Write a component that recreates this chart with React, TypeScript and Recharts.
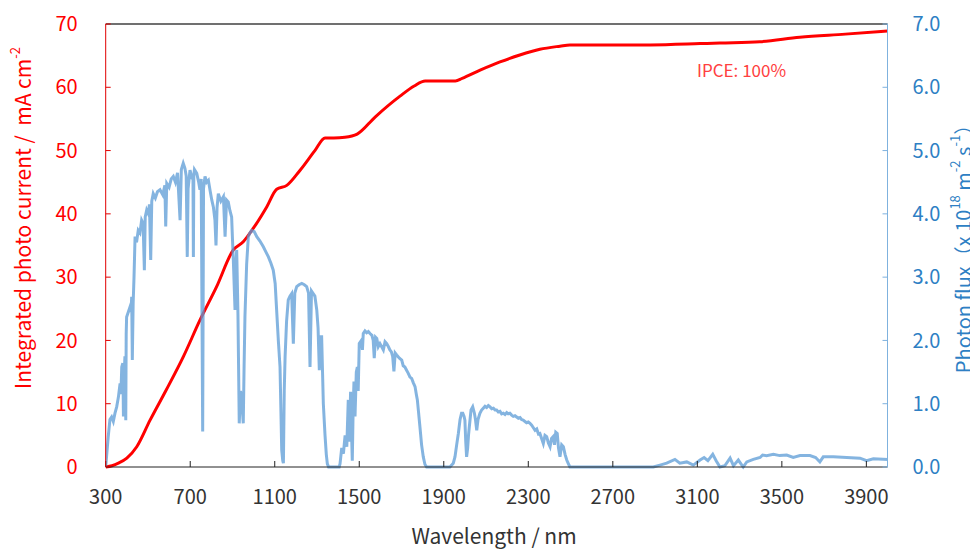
import React from "react";
import { LineChart, Line, XAxis, YAxis, ReferenceLine } from "recharts";

const FONT = "'Noto Sans CJK JP', 'Noto Sans', sans-serif";
const RED = "#FF0000";
const BLUE = "#5B9BD5";
const BLUE_TEXT = "#2E7FC4";

const xTicks = [300, 700, 1100, 1500, 1900, 2300, 2700, 3100, 3500, 3900];
const leftTicks = [0, 10, 20, 30, 40, 50, 60, 70];
const rightTicks = [0, 1, 2, 3, 4, 5, 6, 7];

// integrated photo current (mA cm-2), IPCE 100%
const currentNm = [300, 330, 360, 400, 447, 510, 587, 667, 746, 825, 904, 951, 998, 1062, 1109, 1157, 1220, 1290, 1338, 1380, 1432, 1490, 1575, 1693, 1760, 1812, 1955, 1987, 2072, 2166, 2260, 2355, 2450, 2497, 2600, 2877, 3113, 3207, 3396, 3585, 3800, 4000];
const currentVal = [0, 0.2, 0.6, 1.4, 3.2, 7.4, 12.2, 17.4, 23.2, 28.5, 34.3, 35.6, 37.7, 41.1, 43.9, 44.5, 46.9, 50.0, 52.0, 52.0, 52.1, 52.6, 55.3, 58.6, 60.2, 61.0, 61.0, 61.4, 62.7, 64.0, 65.1, 66.0, 66.5, 66.7, 66.7, 66.7, 66.9, 67.0, 67.2, 67.9, 68.4, 68.9];

// photon flux (x 10^18 m-2 s-1)
const fluxNm = [
  300, 312, 320, 328, 336, 344, 352, 360, 368, 372, 376, 381, 384, 388, 391, 395, 397, 399, 407, 415, 420, 423, 426, 430, 434, 439, 446, 454, 462, 470, 477, 483, 487, 494, 502, 507, 513, 518, 525, 535, 545, 557, 570, 580, 584, 589, 600, 610, 620, 630, 640, 652, 658, 667, 675, 681, 686, 690, 699, 710, 713, 715, 717, 720, 731, 740, 746, 752, 759, 763, 770, 778, 786, 795, 802, 810, 817, 822, 827, 833, 845, 857, 865, 872, 880, 888, 896, 900, 904, 912, 916, 920, 926, 932, 938, 944, 951, 955, 959, 967, 975, 983, 991, 1003, 1015, 1030, 1046, 1058, 1070, 1082, 1093, 1102, 1109, 1117, 1125, 1133, 1138, 1141, 1145, 1149, 1156, 1164, 1172, 1180, 1188, 1195, 1204, 1215, 1228, 1240, 1251, 1260, 1267, 1274, 1282, 1290, 1299, 1305, 1311, 1316, 1322, 1330, 1338, 1344, 1349, 1355,
  1405, 1409, 1417, 1425, 1433, 1441, 1448, 1453, 1459, 1463, 1467, 1471, 1475, 1480, 1486, 1491, 1495, 1500, 1510, 1515, 1519, 1527, 1535, 1543, 1551, 1560, 1566, 1571, 1577, 1583, 1590, 1598, 1606, 1614, 1622, 1630, 1638, 1645, 1652, 1658, 1664, 1670, 1677, 1690, 1701, 1708, 1716, 1724, 1732, 1740, 1748, 1756, 1764, 1770, 1775, 1781, 1787, 1795, 1803, 1811, 1819,
  1929, 1945, 1953, 1961, 1969, 1977, 1984, 1990, 1996, 2000, 2004, 2008, 2013, 2017, 2021, 2029, 2037, 2045, 2050, 2056, 2062, 2071, 2079, 2087, 2095, 2103, 2111, 2119, 2127, 2135, 2143, 2150, 2158, 2166, 2174, 2182, 2190, 2198, 2205, 2213, 2221, 2229, 2237, 2245, 2253, 2261, 2268, 2276, 2284, 2292, 2300, 2308, 2316, 2324, 2332, 2340, 2348, 2355, 2363, 2371, 2379, 2387, 2395, 2403, 2410, 2418, 2424, 2430, 2437, 2443, 2450, 2458, 2466, 2474, 2482, 2490, 2497,
  2892, 2923, 2955, 2994, 3017, 3050, 3081, 3113, 3132, 3150, 3173, 3189, 3207, 3230, 3255, 3271, 3294, 3317, 3334, 3365, 3397, 3409, 3428, 3460, 3490, 3523, 3554, 3586, 3633, 3660, 3680, 3696, 3743, 3807, 3870, 3901, 3933, 4004,
];
const fluxVal = [
  0, 0.48, 0.75, 0.79, 0.72, 0.85, 0.95, 1.1, 1.32, 1.15, 1.58, 1.64, 0.8, 1.5, 1.75, 0.74, 2.1, 2.37, 2.45, 2.53, 2.45, 2.69, 1.69, 2.6, 3.0, 3.64, 3.55, 3.74, 3.7, 3.9, 3.85, 3.11, 3.95, 4.06, 4.0, 4.15, 3.27, 4.2, 4.32, 4.25, 4.35, 4.38, 4.3, 4.45, 3.8, 4.48, 4.42, 4.55, 4.59, 4.5, 4.65, 3.9, 4.7, 4.8, 4.72, 4.6, 3.32, 4.4, 4.69, 4.55, 4.6, 3.32, 4.6, 4.7, 4.64, 4.5, 4.38, 4.55, 0.56, 4.4, 4.59, 4.5, 4.53, 4.35, 4.22, 4.1, 3.9, 3.5, 4.1, 4.32, 4.2, 4.27, 3.64, 4.22, 4.19, 4.05, 3.95, 3.6, 3.27, 2.48, 3.2, 3.43, 2.4, 0.69, 1.2, 1.06, 0.69, 1.6, 2.37, 3.2, 3.64, 3.7, 3.74, 3.72, 3.64, 3.57, 3.48, 3.4, 3.32, 3.22, 3.11, 2.9, 2.48, 2.0, 1.58, 0.27, 0.1, 0.06, 1.2, 1.74, 2.3, 2.64, 2.7, 2.74, 1.95, 2.75, 2.85, 2.88, 2.9, 2.88, 2.85, 2.75, 1.58, 2.78, 2.74, 2.7, 2.48, 2.2, 1.53, 2.06, 2.06, 1.0, 0.5, 0.2, 0.05, 0,
  0, 0.05, 0.3, 0.21, 0.5, 0.32, 1.06, 0.4, 1.19, 0.6, 0.1, 0.9, 1.35, 0.8, 1.5, 1.58, 1.2, 1.95, 2.0, 1.85, 2.11, 2.15, 2.12, 2.14, 2.11, 2.08, 2.0, 1.72, 2.05, 2.03, 1.9, 1.95, 1.9, 1.85, 1.98, 1.95, 1.9, 1.85, 1.82, 1.75, 1.51, 1.8, 1.77, 1.72, 1.69, 1.6, 1.58, 1.53, 1.48, 1.42, 1.4, 1.33, 1.27, 1.15, 1.06, 0.85, 0.64, 0.35, 0.16, 0.04, 0,
  0, 0.06, 0.16, 0.35, 0.53, 0.75, 0.85, 0.85, 0.8, 0.74, 0.4, 0.16, 0.3, 0.5, 0.64, 0.9, 0.95, 0.85, 0.75, 0.58, 0.75, 0.85, 0.9, 0.93, 0.96, 0.94, 0.97, 0.95, 0.92, 0.93, 0.9, 0.9, 0.87, 0.88, 0.84, 0.85, 0.83, 0.86, 0.84, 0.85, 0.82, 0.8, 0.81, 0.79, 0.77, 0.78, 0.75, 0.74, 0.72, 0.7, 0.71, 0.69, 0.66, 0.62, 0.58, 0.6, 0.52, 0.53, 0.45, 0.37, 0.5, 0.48, 0.38, 0.32, 0.45, 0.48, 0.35, 0.55, 0.53, 0.3, 0.16, 0.35, 0.32, 0.2, 0.11, 0.05, 0,
  0, 0.03, 0.06, 0.12, 0.06, 0.08, 0.03, 0.11, 0.15, 0.1, 0.2, 0.1, 0, 0.02, 0.14, 0.02, 0.11, 0, 0.08, 0.12, 0.15, 0.19, 0.18, 0.2, 0.18, 0.19, 0.15, 0.18, 0.18, 0.15, 0.08, 0.16, 0.16, 0.15, 0.14, 0.1, 0.13, 0.12,
];

const currentData = currentNm.map((x, i) => ({ x, y: currentVal[i] }));
const fluxData = fluxNm.map((x, i) => ({ x, y: fluxVal[i] }));

function LeftTitle() {
  return (
    <text transform="translate(14,210) rotate(-90)" textAnchor="middle" dominantBaseline="central" fill={RED} fontSize={21} fontFamily={FONT}>
      {"Integrated photo current /\u00A0\u00A0mA cm"}
      <tspan fontSize={13} dy={-8}>-2</tspan>
    </text>
  );
}

function RightTitle() {
  return (
    <text transform="translate(954,236) rotate(-90)" textAnchor="middle" dominantBaseline="central" fill={BLUE_TEXT} fontSize={20} fontFamily={FONT}>
      Photon flux（x 10<tspan fontSize={13} dy={-8}>18</tspan>
      <tspan dy={8}> m</tspan>
      <tspan fontSize={13} dy={-8}>-2</tspan>
      <tspan dy={8}> s</tspan>
      <tspan fontSize={13} dy={-8}>-1</tspan>
      <tspan dy={8}>）</tspan>
    </text>
  );
}

function BottomTitle() {
  return (
    <text x={486} y={536} textAnchor="middle" fill="#333" fontSize={21} fontFamily={FONT}>
      Wavelength / nm
    </text>
  );
}

export default function App() {
  return (
    <div style={{ position: "relative", width: 970, height: 542, fontFamily: FONT }}>
      <style>{`.recharts-surface { overflow: visible; }`}</style>
      <LineChart width={970} height={542} margin={{ top: 16, right: 30.5, bottom: 43, left: 37.7 }}>
        <XAxis
          dataKey="x"
          type="number"
          domain={[300, 4000]}
          ticks={xTicks}
          allowDataOverflow
          height={40}
          stroke="#222"
          tickSize={-6}
          tickMargin={29}
          tick={{ fill: "#333", fontSize: 20, fontFamily: FONT }}
          label={<BottomTitle />}
        />
        <YAxis
          yAxisId="left"
          domain={[0, 70]}
          ticks={leftTicks}
          width={60}
          stroke="#E00000"
          tickSize={-5}
          tickMargin={33}
          tick={{ fill: RED, fontSize: 20, fontFamily: FONT }}
          label={<LeftTitle />}
        />
        <YAxis
          yAxisId="right"
          orientation="right"
          domain={[0, 7]}
          ticks={rightTicks}
          width={60}
          stroke="#7FB2DE"
          tickSize={-5}
          tickMargin={30}
          tickFormatter={(v: number) => v.toFixed(1)}
          tick={{ fill: BLUE_TEXT, fontSize: 20, fontFamily: FONT }}
          label={<RightTitle />}
        />
        <ReferenceLine yAxisId="left" y={70} stroke="#404040" strokeWidth={1.5} />
        <Line
          yAxisId="left"
          data={currentData}
          dataKey="y"
          type="monotone"
          stroke={RED}
          strokeWidth={3}
          dot={false}
          isAnimationActive={false}
        />
        <Line
          yAxisId="right"
          data={fluxData}
          dataKey="y"
          type="linear"
          stroke={BLUE}
          strokeOpacity={0.75}
          strokeWidth={3}
          dot={false}
          isAnimationActive={false}
        />
      </LineChart>
      <div style={{ position: "absolute", left: 689, top: 53, fontSize: 17, lineHeight: "17px", color: "#FF4040", whiteSpace: "nowrap" }}>
        IPCE: 100%
      </div>
    </div>
  );
}
